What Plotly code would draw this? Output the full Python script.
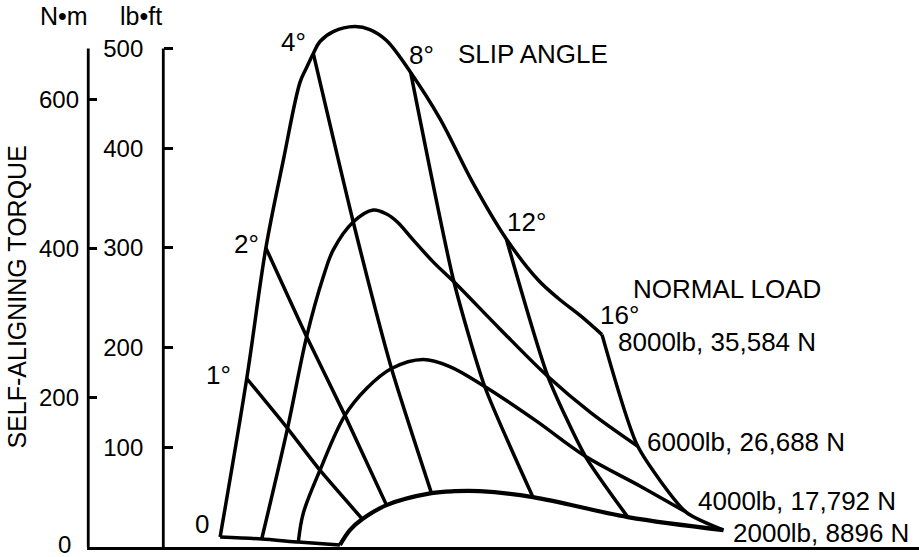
import plotly.graph_objects as go

# ---------------- data ----------------
slip_angle_labels = ["0", "1°", "2°", "4°", "8°", "12°", "16°"]
load_labels = ["8000lb, 35,584 N", "6000lb, 26,688 N", "4000lb, 17,792 N", "2000lb, 8896 N"]

# horizontal position (unitless 0-100 scale) and torque (lb·ft) along each load curve
x_8000 = [16.0, 19.2, 21.5, 23.6, 25.6, 26.4, 27.2, 28.0, 29.6, 32.2, 34.0, 36.0, 38.9, 42.4, 46.4, 50.4, 54.2, 56.7, 59.3, 61.9]
t_8000 = [10, 169, 300, 388, 466, 481, 495, 507, 517, 522, 519, 508, 476, 430, 365, 309, 268, 249, 232, 213]
idx_8000 = [0, 1, 2, 6, 12, 15, 19]          # points at slip angles 0,1,2,4,8,12,16 deg

x_6000 = [21.0, 24.1, 26.4, 28.4, 29.6, 32.0, 34.4, 36.0, 37.3, 39.2, 41.6, 44.1, 49.6, 55.4, 60.5, 66.2]
t_6000 = [8, 119, 211, 271, 298, 326, 338, 334, 326, 308, 286, 266, 219, 171, 135, 101]
idx_6000 = [0, 1, 2, 5, 11, 13, 15]

x_4000 = [25.4, 26.0, 28.0, 31.0, 33.6, 36.6, 40.4, 43.6, 47.8, 53.9, 59.9, 66.5, 72.0]
t_4000 = [5, 34, 77, 132, 159, 179, 188, 181, 161, 127, 91, 61, 35]
idx_4000 = [0, 2, 3, 5, 8, 10, 12]

x_2000 = [30.4, 31.6, 33.1, 36.0, 41.4, 44.2, 47.2, 53.6, 65.0, 76.5]
t_2000 = [2, 17, 28, 42, 54, 56, 56, 50, 30, 17]
idx_2000 = [0, 2, 3, 4, 7, 8, 9]

lbft_ticks = [100, 200, 300, 400, 500]
nm_ticks = [200, 400, 600]
nm_zero_label = "0"

# ---------------- figure ----------------
FONT = "Liberation Sans, Arial, Helvetica, sans-serif"
W, H = 919, 557
ML, MR, MT, MB = 87, 0, 10, 10
PW, PH = W - ML - MR, H - MT - MB
LB_TOP = 538.6     # lb·ft axis range top
NM_TOP = 719.4     # N·m axis range top

curves = [(x_8000, t_8000, idx_8000), (x_6000, t_6000, idx_6000),
          (x_4000, t_4000, idx_4000), (x_2000, t_2000, idx_2000)]
widths = [3.5, 3.5, 3.5, 4.2]

fig = go.Figure()
for (xs, ts, _), w in zip(curves, widths):
    fig.add_trace(go.Scatter(x=xs, y=ts, mode="lines",
                             line=dict(color="black", width=w, shape="spline", smoothing=1.0),
                             showlegend=False, hoverinfo="skip"))

for k in range(len(slip_angle_labels)):
    xs = [c[0][c[2][k]] for c in curves]
    ts = [c[1][c[2][k]] for c in curves]
    fig.add_trace(go.Scatter(x=xs, y=ts, mode="lines",
                             line=dict(color="black", width=3.5, shape="spline", smoothing=0.6),
                             showlegend=False, hoverinfo="skip"))

# dummy trace so the N·m axis is drawn
fig.add_trace(go.Scatter(x=[None], y=[None], yaxis="y2", showlegend=False, hoverinfo="skip"))

TXT = dict(size=26, color="black", family=FONT)
annotations = []
# slip angle labels near the 8000 lb curve
angle_shift = [(-18, 13), (-28, 4), (-19.5, 4), (-20, 11), (11, 17.5), (20.5, 16.5), (17, 20)]
for k, lab in enumerate(slip_angle_labels):
    i = idx_8000[k]
    annotations.append(dict(x=x_8000[i], y=t_8000[i], xref="x", yref="y", text=lab,
                            showarrow=False, xanchor="center", yanchor="middle",
                            xshift=angle_shift[k][0], yshift=angle_shift[k][1], font=TXT))
# load labels at 16 deg end points
load_shift = [(13.5, -7.5), (7.5, 4), (10, 11), (7.5, -2.5)]
for (xs, ts, idx), lab, sh in zip(curves, load_labels, load_shift):
    i = idx[-1]
    annotations.append(dict(x=xs[i], y=ts[i], xref="x", yref="y", text=lab,
                            showarrow=False, xanchor="left", yanchor="middle",
                            xshift=sh[0], yshift=sh[1], font=TXT))

def px(xp):
    return (xp - ML) / PW

def py(yp):
    return (H - MB - yp) / PH

annotations += [
    dict(x=px(456), y=py(54), xref="paper", yref="paper", text="SLIP ANGLE", showarrow=False,
         xanchor="left", yanchor="middle", font=TXT),
    dict(x=px(631), y=py(289), xref="paper", yref="paper", text="NORMAL LOAD", showarrow=False,
         xanchor="left", yanchor="middle", font=TXT),
    dict(x=px(63.5), y=py(16), xref="paper", yref="paper", text="N•m", showarrow=False,
         xanchor="center", yanchor="middle", font=dict(size=25, color="black", family=FONT)),
    dict(x=px(140.5), y=py(16), xref="paper", yref="paper", text="lb•ft", showarrow=False,
         xanchor="center", yanchor="middle", font=dict(size=25, color="black", family=FONT)),
    dict(x=px(16), y=py(297.5), xref="paper", yref="paper", text="SELF-ALIGNING TORQUE",
         showarrow=False, textangle=-90, xanchor="center", yanchor="middle",
         font=dict(size=25, color="black", family=FONT)),
    # zero label of the N·m scale
    dict(x=px(64), y=0, xref="paper", yref="y2", text=nm_zero_label, showarrow=False,
         xanchor="center", yanchor="middle", yshift=3,
         font=dict(size=24, color="black", family=FONT)),
]

LBFT_POS = px(163.3)
shapes = [
    dict(type="line", xref="paper", yref="y", x0=LBFT_POS, x1=LBFT_POS, y0=0, y1=lbft_ticks[-1],
         line=dict(color="black", width=2.8)),
    dict(type="line", xref="paper", yref="y", x0=0.0015, x1=0.0015, y0=0, y1=lbft_ticks[-1],
         line=dict(color="black", width=2.8)),
]

fig.update_layout(
    width=W, height=H,
    margin=dict(l=ML, r=MR, t=MT, b=MB),
    paper_bgcolor="white", plot_bgcolor="white",
    font=dict(family=FONT, size=24, color="black"),
    showlegend=False,
    hovermode=False,
    xaxis=dict(range=[0, 100], domain=[0, 1], showgrid=False, zeroline=False,
               showticklabels=False, ticks="", showline=True, linecolor="black",
               linewidth=2.8, anchor="y", automargin=False),
    yaxis=dict(range=[0, LB_TOP], anchor="free", position=LBFT_POS, side="left",
               tickvals=lbft_ticks, ticks="inside", ticklen=9, tickwidth=2.5,
               tickcolor="black", showline=False, showgrid=False, zeroline=False,
               tickfont=dict(size=24, color="black", family=FONT),
               ticklabelstandoff=20, automargin=False),
    yaxis2=dict(range=[0, NM_TOP], overlaying="y", anchor="free", position=0, side="left",
                tickvals=nm_ticks, ticks="inside", ticklen=9, tickwidth=2.5,
                tickcolor="black", showline=False, showgrid=False, zeroline=False,
                tickfont=dict(size=24, color="black", family=FONT),
                ticklabelstandoff=8, automargin=False),
    annotations=annotations,
    shapes=shapes,
)

fig.write_html("out.html", config={"displayModeBar": False},
               post_script="document.body.style.margin='0px';")
